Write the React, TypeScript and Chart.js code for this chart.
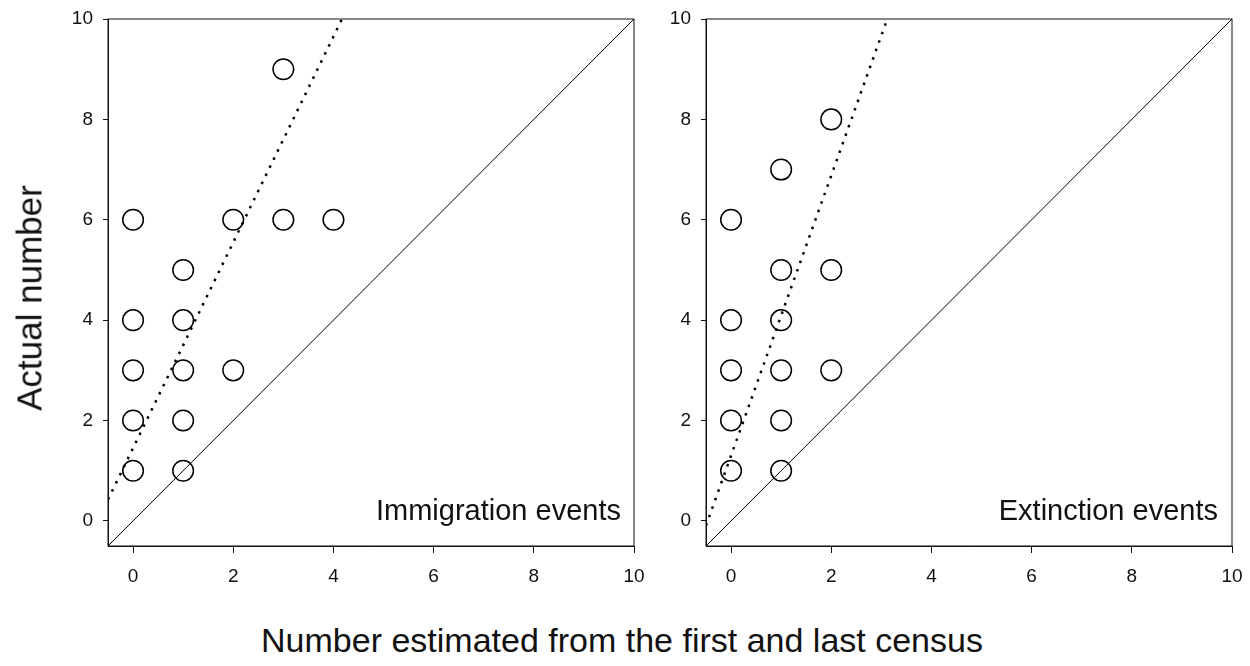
import React, { useEffect, useRef } from 'react';
import { Chart, registerables } from 'chart.js';
Chart.register(...registerables);

const tickValues = [0, 2, 4, 6, 8, 10];
const axisRange = [-0.5, 10];

const immigrationX = [0, 0, 0, 0, 0, 1, 1, 1, 1, 1, 2, 2, 3, 3, 4];
const immigrationY = [1, 2, 3, 4, 6, 1, 2, 3, 4, 5, 3, 6, 6, 9, 6];
const extinctionX = [0, 0, 0, 0, 0, 1, 1, 1, 1, 1, 1, 2, 2, 2];
const extinctionY = [1, 2, 3, 4, 6, 1, 2, 3, 4, 5, 7, 3, 5, 8];
// [intercept, slope] of the dotted regression lines
const immigrationFit = [1.45, 2.05];
const extinctionFit = [1.3, 2.79];
const panelLabels = ['Immigration events', 'Extinction events'];
const yTitle = 'Actual number';
const xTitle = 'Number estimated from the first and last census';

const FONT = 'Arial, "Liberation Sans", sans-serif';

function fitLine(fit: number[]) {
  const [b, m] = fit;
  const x0 = axisRange[0];
  const x1 = Math.min(axisRange[1], (axisRange[1] - b) / m);
  return [
    { x: x0, y: b + m * x0 },
    { x: x1, y: b + m * x1 },
  ];
}

const framePlugin = {
  id: 'frame',
  afterDraw(chart: any) {
    const { ctx, chartArea } = chart;
    ctx.save();
    ctx.strokeStyle = '#111';
    ctx.lineWidth = 1;
    ctx.strokeRect(chartArea.left, chartArea.top, chartArea.right - chartArea.left, chartArea.bottom - chartArea.top);
    ctx.restore();
  },
};

function Panel(props: {
  xs: number[];
  ys: number[];
  fit: number[];
  left: number;
  width: number;
  yAxisWidth: number;
  rightPad: number;
}) {
  const ref = useRef<HTMLCanvasElement>(null);
  useEffect(() => {
    const canvas = ref.current!;
    const tickFont = { family: FONT, size: 19 };
    const chart = new Chart(canvas, {
      type: 'scatter',
      data: {
        datasets: [
          {
            data: [
              { x: axisRange[0], y: axisRange[0] },
              { x: axisRange[1], y: axisRange[1] },
            ],
            showLine: true,
            borderColor: '#000',
            borderWidth: 1,
            pointRadius: 0,
          } as any,
          {
            data: fitLine(props.fit),
            showLine: true,
            borderColor: '#000',
            borderWidth: 2.5,
            borderDash: [2.5, 6.5],
            pointRadius: 0,
          } as any,
          {
            data: props.xs.map((x, i) => ({ x, y: props.ys[i] })),
            showLine: false,
            pointRadius: 10.3,
            pointBorderWidth: 1.5,
            pointBorderColor: '#000',
            pointBackgroundColor: 'rgba(0,0,0,0)',
          } as any,
        ],
      },
      options: {
        animation: false,
        responsive: false,
        events: [],
        layout: { padding: { top: 19, right: props.rightPad, bottom: 0, left: 0 } },
        plugins: { legend: { display: false }, tooltip: { enabled: false } },
        scales: {
          x: {
            type: 'linear',
            min: axisRange[0],
            max: axisRange[1],
            afterBuildTicks: (s: any) => {
              s.ticks = tickValues.map((v) => ({ value: v }));
            },
            afterFit: (s: any) => {
              s.height = 54;
              s.paddingLeft = 0;
              s.paddingRight = 0;
            },
            ticks: { font: tickFont, color: '#111', padding: 12, maxRotation: 0 },
            grid: { drawOnChartArea: false, tickLength: 7, color: '#111' },
            border: { color: '#111' },
          },
          y: {
            type: 'linear',
            min: axisRange[0],
            max: axisRange[1],
            afterBuildTicks: (s: any) => {
              s.ticks = tickValues.map((v) => ({ value: v }));
            },
            afterFit: (s: any) => {
              s.width = props.yAxisWidth;
              s.paddingTop = 0;
              s.paddingBottom = 0;
            },
            ticks: { font: tickFont, color: '#111', padding: 10 },
            grid: { drawOnChartArea: false, tickLength: 5, color: '#111' },
            border: { color: '#111' },
          },
        },
      } as any,
      plugins: [framePlugin],
    });
    return () => chart.destroy();
  }, []);
  return (
    <canvas
      ref={ref}
      width={props.width}
      height={600}
      style={{ position: 'absolute', left: props.left, top: 0, width: props.width, height: 600 }}
    />
  );
}

export default function App() {
  const text: React.CSSProperties = {
    position: 'absolute',
    fontFamily: FONT,
    color: '#111',
    whiteSpace: 'nowrap',
    lineHeight: 1,
  };
  return (
    <div style={{ position: 'absolute', left: 0, top: 0, width: 1250, height: 666, background: '#fff', overflow: 'hidden' }}>
      <Panel xs={immigrationX} ys={immigrationY} fit={immigrationFit} left={0} width={650} yAxisWidth={108} rightPad={16} />
      <Panel xs={extinctionX} ys={extinctionY} fit={extinctionFit} left={650} width={600} yAxisWidth={56} rightPad={18} />
      <div style={{ ...text, left: 621, top: 510, fontSize: 29, transform: 'translate(-100%, -50%)' }}>{panelLabels[0]}</div>
      <div style={{ ...text, left: 1218, top: 510, fontSize: 29, transform: 'translate(-100%, -50%)' }}>{panelLabels[1]}</div>
      <div style={{ ...text, left: 29, top: 298, fontSize: 35, transform: 'translate(-50%, -50%) rotate(-90deg)' }}>{yTitle}</div>
      <div style={{ ...text, left: 622, top: 640, fontSize: 34, transform: 'translate(-50%, -50%)' }}>{xTitle}</div>
    </div>
  );
}
